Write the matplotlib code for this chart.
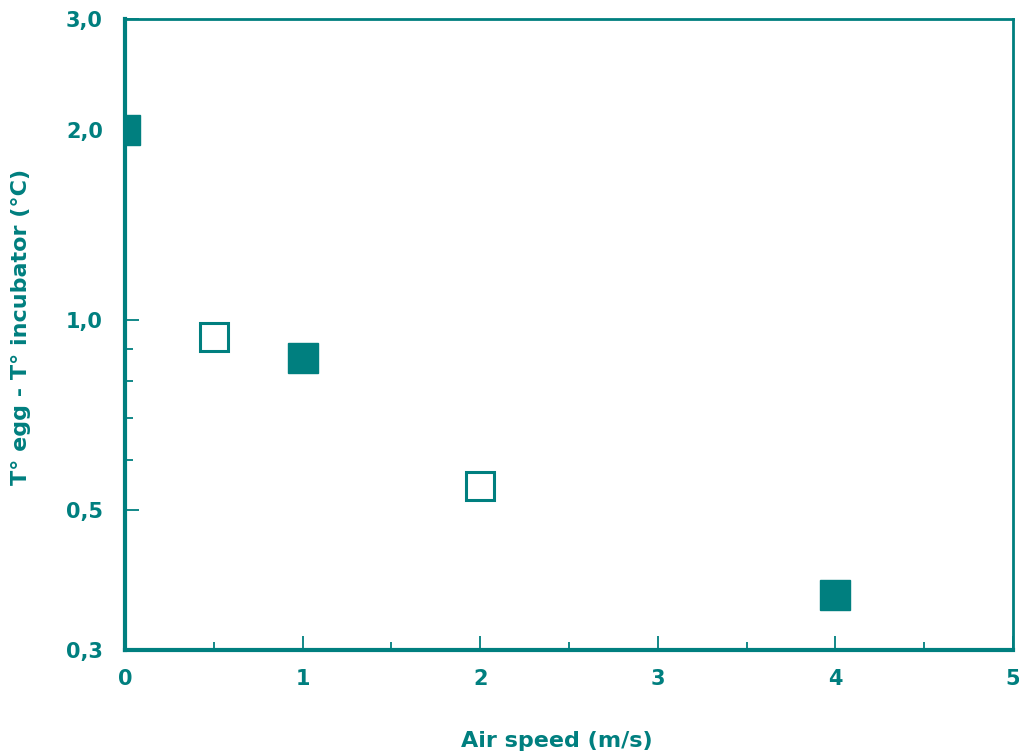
import matplotlib
matplotlib.use("Agg")
import matplotlib.pyplot as plt
from matplotlib.ticker import FixedLocator, FixedFormatter, NullFormatter

teal = "#007f7f"

filled_x = [0, 1, 4]
filled_y = [2.0, 0.87, 0.367]
open_x = [0.5, 2]
open_y = [0.94, 0.546]

y_major = [0.3, 0.5, 1.0, 2.0, 3.0]
y_major_labels = ["0,3", "0,5", "1,0", "2,0", "3,0"]
y_minor = [0.6, 0.7, 0.8, 0.9]
x_major = [0, 1, 2, 3, 4, 5]
x_minor = [0.5, 1.5, 2.5, 3.5, 4.5]

fig = plt.figure(figsize=(10.19, 7.56), dpi=100)
ax = fig.add_axes([125/1019, 1-650/756, (1013-125)/1019, (650-19)/756])

ax.plot(filled_x, filled_y, linestyle="none", marker="s", markersize=21,
        markerfacecolor=teal, markeredgecolor=teal, markeredgewidth=1)
ax.plot(open_x, open_y, linestyle="none", marker="s", markersize=20,
        markerfacecolor="white", markeredgecolor=teal, markeredgewidth=2.2)

ax.set_yscale("log")
ax.set_xlim(0, 5)
ax.set_ylim(0.3, 3.0)

ax.yaxis.set_major_locator(FixedLocator(y_major))
ax.yaxis.set_major_formatter(FixedFormatter(y_major_labels))
ax.yaxis.set_minor_locator(FixedLocator(y_minor))
ax.yaxis.set_minor_formatter(NullFormatter())
ax.xaxis.set_major_locator(FixedLocator(x_major))
ax.xaxis.set_minor_locator(FixedLocator(x_minor))

for s in ["left", "bottom"]:
    ax.spines[s].set_linewidth(3.0)
for s in ["top", "right"]:
    ax.spines[s].set_linewidth(2.0)
for s in ax.spines.values():
    s.set_color(teal)

ax.tick_params(axis="both", which="major", direction="in", length=10, width=1.3,
               color=teal, labelcolor=teal, labelsize=15)
ax.tick_params(axis="both", which="minor", direction="in", length=6, width=1.3,
               color=teal)
ax.tick_params(axis="y", which="major", pad=16)
ax.tick_params(axis="x", which="major", pad=14)
for lab in ax.get_xticklabels() + ax.get_yticklabels():
    lab.set_fontweight("bold")

fig.text(557/1019, 1-741/756, "Air speed (m/s)", color=teal, fontsize=16,
         fontweight="bold", ha="center", va="center")
fig.text(21/1019, 1-327/756, "T° egg - T° incubator (°C)", color=teal, fontsize=16,
         fontweight="bold", ha="center", va="center", rotation=90)

fig.savefig("out.png", dpi=100)
